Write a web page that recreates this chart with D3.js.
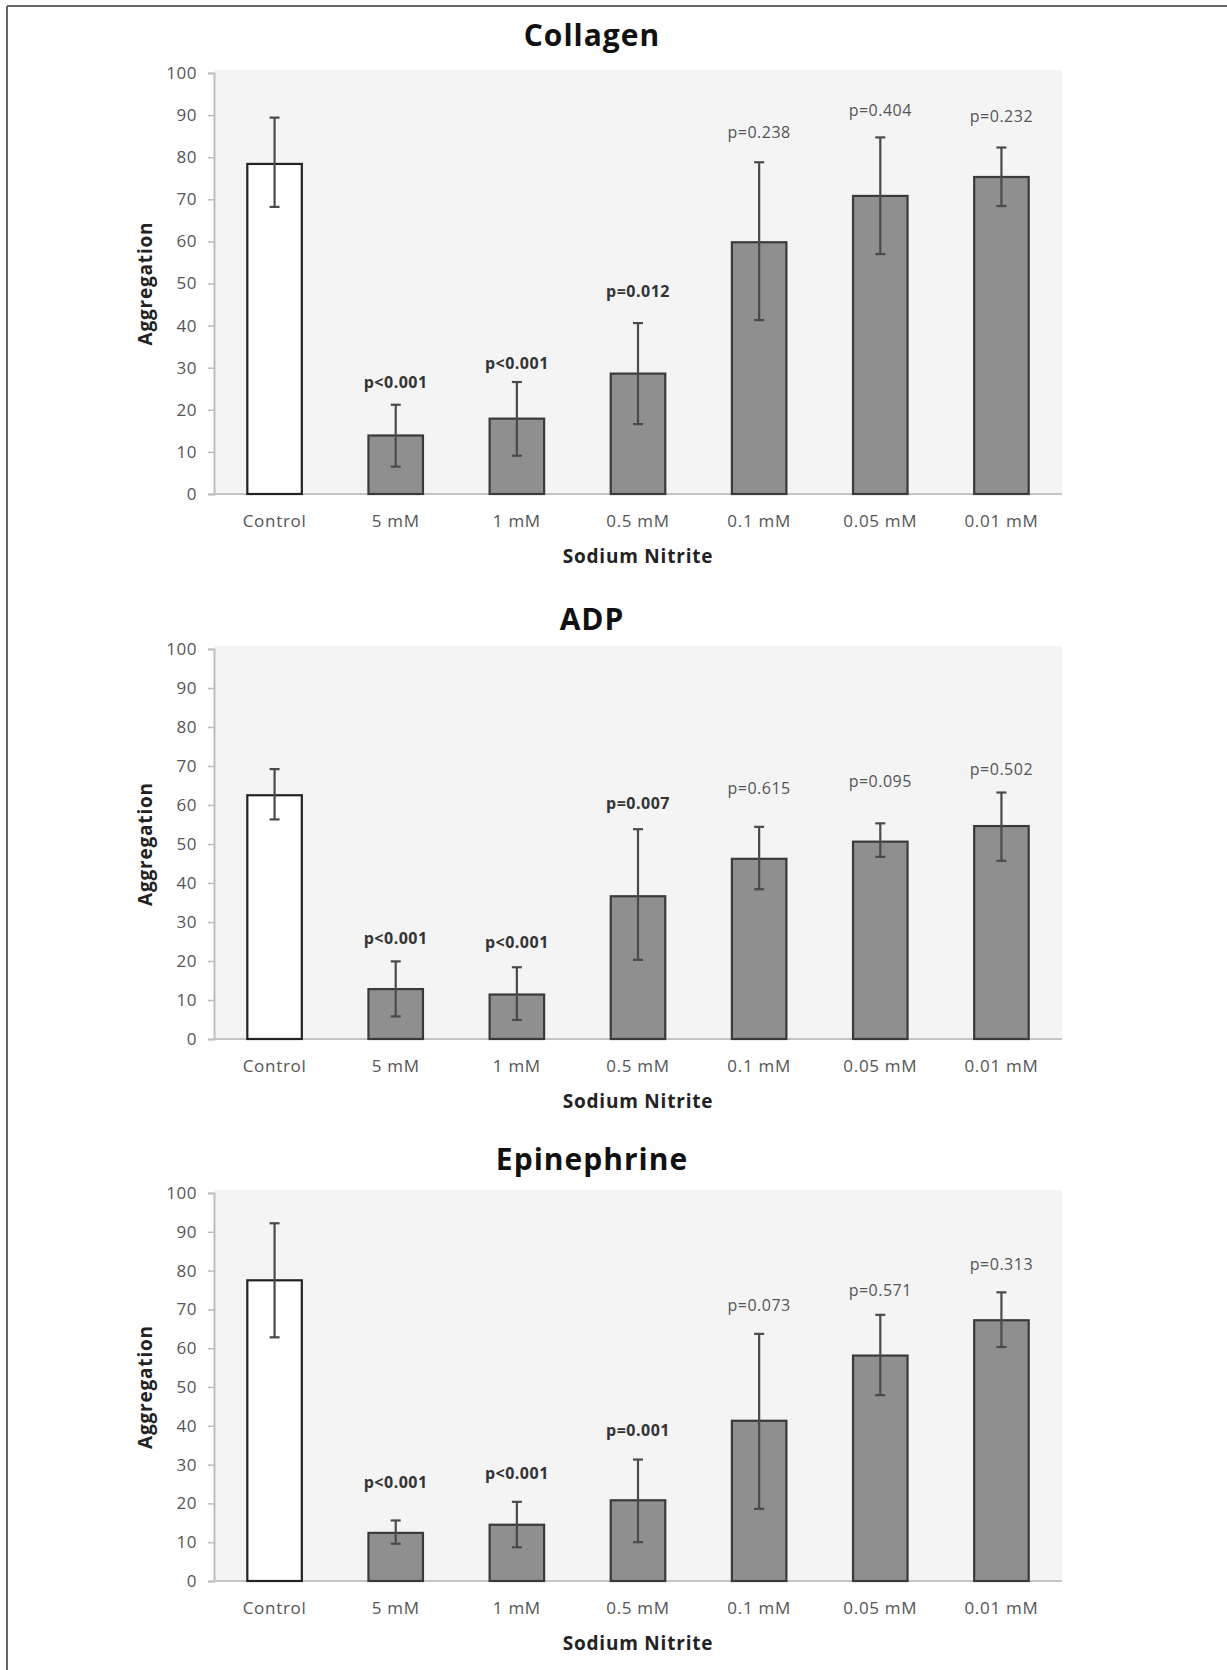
<!DOCTYPE html>
<html>
<head>
<meta charset="utf-8">
<script src="https://cdn.jsdelivr.net/npm/d3@7"></script>
<style>
  html, body { margin: 0; padding: 0; background: #fff; }
  svg { display: block; font-family: "Open Sans", Lato, sans-serif; }
</style>
</head>
<body>
<div id="chart"></div>
<script>
const categories = ['Control', '5 mM', '1 mM', '0.5 mM', '0.1 mM', '0.05 mM', '0.01 mM'];
const yTicks = [0, 10, 20, 30, 40, 50, 60, 70, 80, 90, 100];

const titles = ['Collagen', 'ADP', 'Epinephrine'];

// mean aggregation per category
const collagenMean = [78.4, 13.9, 17.9, 28.6, 59.8, 70.8, 75.3];
const adpMean = [62.5, 12.8, 11.4, 36.6, 46.2, 50.6, 54.6];
const epiMean = [77.5, 12.4, 14.5, 20.8, 41.3, 58.1, 67.2];

// error bar bounds [low, high]
const collagenErr = [[68.2, 89.4], [6.5, 21.2], [9.1, 26.6], [16.6, 40.6], [41.3, 78.8], [57.0, 84.7], [68.4, 82.3]];
const adpErr = [[56.3, 69.2], [5.8, 19.9], [4.9, 18.4], [20.3, 53.8], [38.4, 54.4], [46.7, 55.3], [45.7, 63.2]];
const epiErr = [[62.8, 92.2], [9.6, 15.6], [8.7, 20.4], [10.0, 31.3], [18.6, 63.7], [47.9, 68.6], [60.3, 74.4]];

// p-value annotations (null for control)
const collagenP = [null, 'p<0.001', 'p<0.001', 'p=0.012', 'p=0.238', 'p=0.404', 'p=0.232'];
const adpP = [null, 'p<0.001', 'p<0.001', 'p=0.007', 'p=0.615', 'p=0.095', 'p=0.502'];
const epiP = [null, 'p<0.001', 'p<0.001', 'p=0.001', 'p=0.073', 'p=0.571', 'p=0.313'];
const collagenSig = [false, true, true, true, false, false, false];
const adpSig = [false, true, true, true, false, false, false];
const epiSig = [false, true, true, true, false, false, false];

// level (in aggregation units) where each p label sits
const collagenPLevel = [null, 26.6, 31.0, 48.2, 86.0, 91.1, 89.6];
const adpPLevel = [null, 25.8, 24.8, 60.5, 64.3, 66.0, 69.1];
const epiPLevel = [null, 25.3, 27.7, 38.8, 71.0, 75.0, 81.6];

const width = 1227, height = 1670;
const svg = d3.select('#chart').append('svg')
  .attr('width', width).attr('height', height);

// frame (top and left edges only)
svg.append('line').attr('x1', 7).attr('y1', 6).attr('x2', width).attr('y2', 6)
  .attr('stroke', '#666').attr('stroke-width', 2);
svg.append('line').attr('x1', 7).attr('y1', 6).attr('x2', 7).attr('y2', height)
  .attr('stroke', '#666').attr('stroke-width', 2);

const panels = [
  { title: titles[0], mean: collagenMean, err: collagenErr, p: collagenP, sig: collagenSig, lvl: collagenPLevel, top: 73, base: 494, titleY: 46 },
  { title: titles[1], mean: adpMean, err: adpErr, p: adpP, sig: adpSig, lvl: adpPLevel, top: 649, base: 1039, titleY: 630 },
  { title: titles[2], mean: epiMean, err: epiErr, p: epiP, sig: epiSig, lvl: epiPLevel, top: 1193, base: 1581, titleY: 1170 }
];

const left = 214, right = 1062;

panels.forEach(pn => {
  const x = d3.scaleBand().domain(categories).range([left, right])
    .paddingInner(0.55).paddingOuter(0.275);
  const y = d3.scaleLinear().domain([0, 100]).range([pn.base, pn.top]);
  const g = svg.append('g');

  // plot background
  g.append('rect').attr('x', left).attr('y', pn.top - 3)
    .attr('width', right - left).attr('height', pn.base - pn.top + 3)
    .attr('fill', '#f4f4f4');

  // y axis
  const yAxis = g.append('g').attr('transform', `translate(${left},0)`)
    .call(d3.axisLeft(y).tickValues(yTicks).tickSize(6).tickPadding(11));
  yAxis.select('.domain').attr('stroke', '#bdbdbd').attr('stroke-width', 2);
  yAxis.selectAll('.tick line').attr('stroke', '#bdbdbd').attr('stroke-width', 1.5);
  yAxis.selectAll('.tick text').attr('fill', '#555').attr('font-size', '17px')
    .attr('font-family', '"Open Sans", sans-serif').attr('letter-spacing', '0.5px');

  // x axis
  const xAxis = g.append('g').attr('transform', `translate(0,${pn.base})`)
    .call(d3.axisBottom(x).tickSize(0).tickPadding(21));
  xAxis.select('.domain').attr('stroke', '#c4c4c4').attr('stroke-width', 2)
    .attr('d', `M${left},0H${right}`);
  xAxis.selectAll('.tick text').attr('fill', '#555').attr('font-size', '17px')
    .attr('font-family', '"Open Sans", sans-serif').attr('letter-spacing', '0.7px');

  // bars
  g.selectAll('.bar').data(categories).join('rect')
    .attr('class', 'bar')
    .attr('x', d => x(d))
    .attr('y', (d, i) => y(pn.mean[i]))
    .attr('width', x.bandwidth())
    .attr('height', (d, i) => y(0) - y(pn.mean[i]))
    .attr('fill', (d, i) => i === 0 ? '#ffffff' : '#8f8f8f')
    .attr('stroke', (d, i) => i === 0 ? '#222' : '#3a3a3a')
    .attr('stroke-width', 2.2);

  // error bars
  const cx = d => x(d) + x.bandwidth() / 2;
  const eb = g.selectAll('.err').data(categories).join('g').attr('class', 'err')
    .attr('stroke', '#4a4a4a').attr('stroke-width', 2.2);
  eb.append('line').attr('x1', cx).attr('x2', cx)
    .attr('y1', (d, i) => y(pn.err[i][0])).attr('y2', (d, i) => y(pn.err[i][1]));
  eb.append('line').attr('x1', d => cx(d) - 5).attr('x2', d => cx(d) + 5)
    .attr('y1', (d, i) => y(pn.err[i][0])).attr('y2', (d, i) => y(pn.err[i][0]));
  eb.append('line').attr('x1', d => cx(d) - 5).attr('x2', d => cx(d) + 5)
    .attr('y1', (d, i) => y(pn.err[i][1])).attr('y2', (d, i) => y(pn.err[i][1]));

  // p-value labels
  g.selectAll('.plab').data(categories.filter((d, i) => pn.p[i])).join('text')
    .attr('class', 'plab')
    .attr('x', cx)
    .attr('y', d => y(pn.lvl[categories.indexOf(d)]))
    .attr('dy', '0.35em')
    .attr('text-anchor', 'middle')
    .attr('font-size', '16px')
    .attr('letter-spacing', '0.5px')
    .attr('font-weight', d => pn.sig[categories.indexOf(d)] ? 'bold' : 'normal')
    .attr('fill', d => pn.sig[categories.indexOf(d)] ? '#333' : '#555')
    .text(d => pn.p[categories.indexOf(d)]);

  // titles
  g.append('text').attr('x', 592).attr('y', pn.titleY)
    .attr('text-anchor', 'middle').attr('font-size', '30px').attr('font-weight', 'bold')
    .attr('letter-spacing', '1px')
    .attr('fill', '#111').text(pn.title);

  g.append('text').attr('x', (left + right) / 2).attr('y', pn.base + 69)
    .attr('text-anchor', 'middle').attr('font-size', '19px').attr('font-weight', 'bold')
    .attr('letter-spacing', '0.8px')
    .attr('fill', '#222').text('Sodium Nitrite');

  g.append('text').attr('transform', `translate(152,${(pn.top + pn.base) / 2}) rotate(-90)`)
    .attr('text-anchor', 'middle').attr('font-size', '19px').attr('font-weight', 'bold')
    .attr('letter-spacing', '0.8px')
    .attr('fill', '#222').text('Aggregation');
});
</script>
</body>
</html>
